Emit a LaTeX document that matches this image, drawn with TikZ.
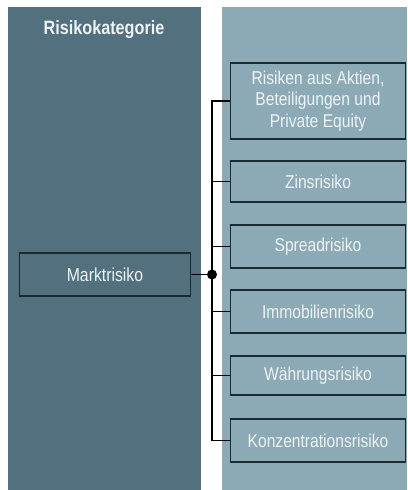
\documentclass[tikz,border=0pt]{standalone}
\usepackage{fontspec}
\setmainfont[FakeStretch=0.84]{Liberation Sans}
\begin{document}
\begin{tikzpicture}[x=1pt,y=-1pt,
  riskbox/.style={draw=boxline,line width=1.6pt,fill=lightpanel,text=boxtext,
    minimum width=175pt,align=center,inner sep=0pt,font=\fontsize{18.6}{21.5}\selectfont},
  mainbox/.style={draw=boxline,line width=1.6pt,fill=darkpanel,text=boxtext,
    minimum width=171pt,minimum height=43pt,inner sep=0pt,font=\fontsize{18.8}{21.5}\selectfont},
  conn/.style={draw=black,line width=1.5pt}]
\definecolor{darkpanel}{HTML}{52707E}
\definecolor{lightpanel}{HTML}{8BAAB6}
\definecolor{boxline}{HTML}{1B2A31}
\definecolor{boxtext}{HTML}{EEF3F5}
\useasboundingbox[fill=white] (0,0) rectangle (407,490);
\fill[darkpanel] (8,7) rectangle (201,490);
\fill[lightpanel] (222,7) rectangle (407,490);
\node[text=boxtext,font=\bfseries\fontsize{19.3}{22}\selectfont] (title) at (104,30) {Risikokategorie};
\node[mainbox] (markt) at (105,274.5) {Marktrisiko};
\node[riskbox,minimum height=76pt] (b1) at (318,101) {Risiken aus Aktien,\\Beteiligungen und\\Private Equity};
\node[riskbox,minimum height=41pt] (b2) at (318,181.5) {Zinsrisiko};
\node[riskbox,minimum height=43pt] (b3) at (318,246.5) {Spreadrisiko};
\node[riskbox,minimum height=43pt] (b4) at (318,311.5) {Immobilienrisiko};
\node[riskbox,minimum height=39pt] (b5) at (318,375.5) {Währungsrisiko};
\node[riskbox,minimum height=43pt] (b6) at (318,440.5) {Konzentrationsrisiko};
\coordinate (hub) at (212,274.5);
\draw[conn] (markt.east) -- (hub);
\draw[conn] (b1.west) -| (hub);
\draw[conn] (b6.west) -| (hub);
\foreach \b in {b2,b3,b4,b5} \draw[conn] (\b.west) -- (hub |- \b.west);
\fill[black] (hub) circle (5pt);
\end{tikzpicture}
\end{document}
